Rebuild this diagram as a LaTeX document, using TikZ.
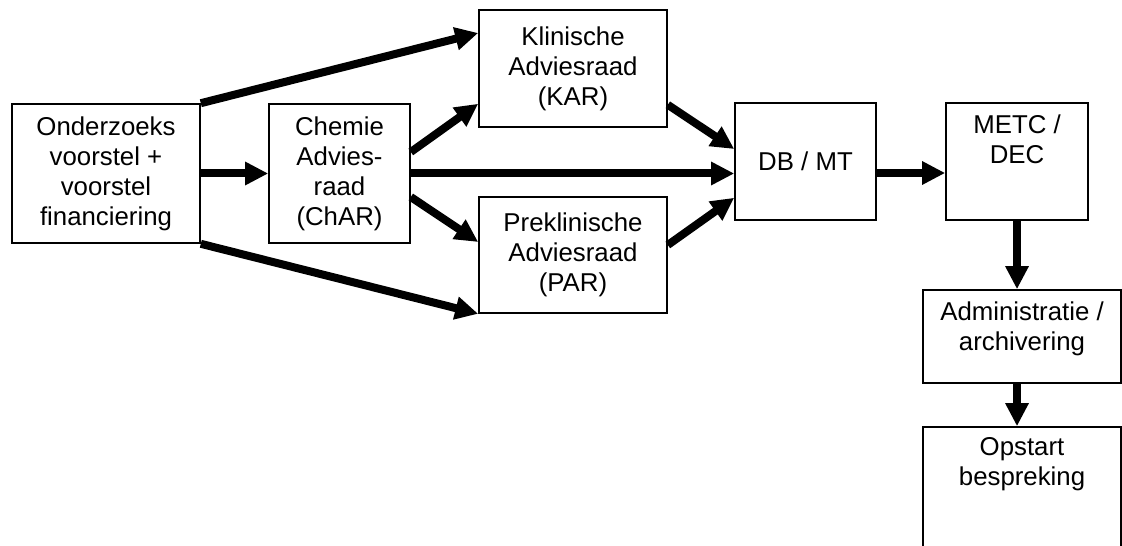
\documentclass[tikz,border=0pt]{standalone}
\usepackage{fontspec}
\setmainfont{Liberation Sans}
\usetikzlibrary{arrows.meta}

\newcommand{\bovenaan}[3]{\parbox[c][#1][t]{#2}{\centering #3}}

\begin{document}
\begin{tikzpicture}[x=0.5pt,y=-0.5pt,-{Triangle[length=11.5pt,width=11pt]},line width=4pt]
  \tikzstyle{blok}=[draw,line width=0.8pt,inner sep=0pt,align=center,
                    font=\fontsize{12.9}{15}\selectfont]
  \useasboundingbox (0,0) rectangle (1122,545);

  \node[blok,minimum width=94pt,minimum height=69.5pt] (on) at (106,173.5)
       {Onderzoeks\\voorstel +\\voorstel\\financiering};
  \node[blok,minimum width=70.5pt,minimum height=69.5pt] (ch) at (339.5,173.5)
       {Chemie\\Advies-\\raad\\(ChAR)};
  \node[blok,minimum width=94pt,minimum height=58.5pt] (kar) at (573,68.5)
       {Klinische\\Adviesraad\\(KAR)};
  \node[blok,minimum width=94pt,minimum height=58pt] (par) at (573,255)
       {Preklinische\\Adviesraad\\(PAR)};
  \node[blok,minimum width=70.5pt,minimum height=58.5pt] (db) at (805.5,161.5)
       {DB / MT};
  \node[blok,inner ysep=6pt] (metc) at (1017,161.5)
       {\bovenaan{46.5pt}{71pt}{METC /\\DEC}};
  \node[blok,inner ysep=6pt] (adm) at (1022,336.5)
       {\bovenaan{34.5pt}{99pt}{Administratie /\\archivering}};
  \node[blok,inner ysep=5pt] (ops) at (1022,487)
       {\bovenaan{50pt}{99pt}{Opstart\\bespreking}};

  \path (on) edge (ch)
        (on.north east) edge ([yshift=17.75pt]kar.west)
        (on.south east) edge (par.south west)
        ([yshift=10.75pt]ch.east) edge ([yshift=12pt]kar.south west)
        (ch.east) edge (ch.east -| db.west)
        ([yshift=-11.75pt]ch.east) edge ([yshift=6.5pt]par.west)
        ([yshift=11.5pt]kar.south east) edge ([yshift=6.25pt]db.west)
        ([yshift=5pt]par.east) edge ([yshift=11.5pt]db.south west)
        ([yshift=-5.75pt]db.east) edge ([yshift=-5.75pt]metc.west)
        (metc.south) edge (metc.south |- adm.north)
        (adm.south -| metc.south) edge (ops.north -| metc.south);
\end{tikzpicture}
\end{document}
